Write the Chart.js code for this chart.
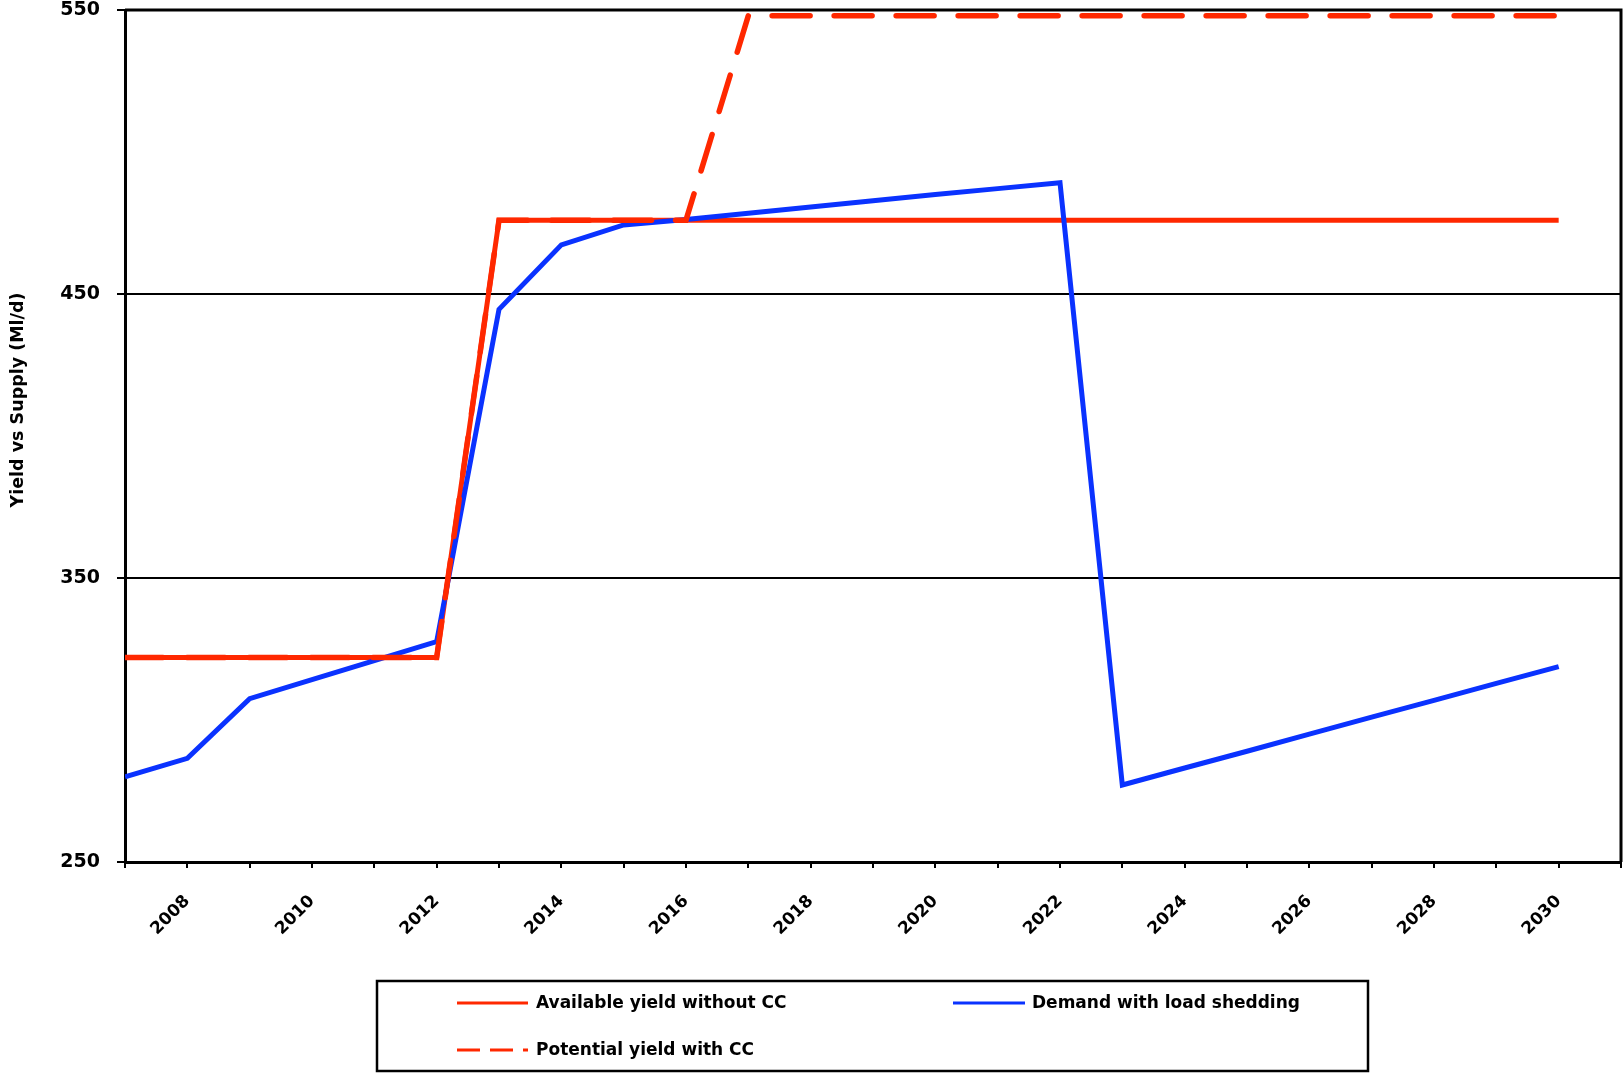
<!DOCTYPE html>
<html>
<head>
<meta charset="utf-8">
<script src="https://cdn.jsdelivr.net/npm/chart.js@4/dist/chart.umd.min.js"></script>
<style>
  html, body { margin: 0; padding: 0; background: #ffffff; }
  #wrap { width: 1623px; height: 1074px; }
</style>
</head>
<body>
<div id="wrap"><canvas id="c" width="1623" height="1074"></canvas></div>
<script>
// Years on the x axis
const years = [2007, 2008, 2009, 2010, 2011, 2012, 2013, 2014, 2015, 2016, 2017, 2018,
               2019, 2020, 2021, 2022, 2023, 2024, 2025, 2026, 2027, 2028, 2029, 2030];

// Available yield without CC (Ml/d)
const availableYield = [322, 322, 322, 322, 322, 322, 476, 476, 476, 476, 476, 476,
                        476, 476, 476, 476, 476, 476, 476, 476, 476, 476, 476, 476];

// Demand with load shedding (Ml/d)
const demand = [280, 286.5, 307.5, 314.2, 320.9, 327.6, 444.6, 467.3, 474.3, 476.2, 478.4, 480.6,
                482.8, 485, 487.1, 489.2, 277.1, 283.1, 289, 295, 301, 306.9, 312.9, 318.8];

// Potential yield with CC (Ml/d)
const potentialYield = [322, 322, 322, 322, 322, 322, 476, 476, 476, 476, 548, 548,
                        548, 548, 548, 548, 548, 548, 548, 548, 548, 548, 548, 548];

// Axis ticks
const yTicks = [250, 350, 450, 550];
const xLabelYears = [2008, 2010, 2012, 2014, 2016, 2018, 2020, 2022, 2024, 2026, 2028, 2030];

const yTitle = 'Yield vs Supply (Ml/d)';

const RED = '#ff2800';
const BLUE = '#0a32ff';
const FONT = '"DejaVu Sans", sans-serif';

const toPoints = vals => years.map((y, i) => ({ x: y, y: vals[i] }));

// Scales keep their fixed box sizes and add no extra padding around the plot
const clearPadding = s => {
  s.paddingTop = 0;
  s.paddingBottom = 0;
  s.paddingLeft = 0;
  s.paddingRight = 0;
};

// Frame around the plot (top and right edges) plus the y title and boxed legend
const framePlugin = {
  id: 'frame',
  afterDraw(chart) {
    const { ctx, chartArea: a } = chart;
    ctx.save();
    ctx.strokeStyle = '#000';
    ctx.lineWidth = 3;
    ctx.beginPath();
    ctx.moveTo(a.left, a.top);
    ctx.lineTo(a.right, a.top);
    ctx.lineTo(a.right, a.bottom);
    ctx.stroke();

    // rotated y-axis title
    ctx.fillStyle = '#000';
    ctx.font = 'bold 17.5px ' + FONT;
    ctx.translate(18, 400);
    ctx.rotate(-Math.PI / 2);
    ctx.textAlign = 'center';
    ctx.textBaseline = 'middle';
    ctx.fillText(yTitle, 0, 0);
    ctx.restore();

    // legend box
    ctx.save();
    ctx.strokeStyle = '#000';
    ctx.lineWidth = 2.5;
    ctx.strokeRect(377, 981, 991, 90);
    const ds = chart.data.datasets;
    const items = [
      { d: ds[0], x1: 457, x2: 528, tx: 536, y: 1003 },
      { d: ds[1], x1: 953, x2: 1025, tx: 1032, y: 1003 },
      { d: ds[2], x1: 457, x2: 528, tx: 536, y: 1050 }
    ];
    ctx.font = 'bold 17px ' + FONT;
    ctx.textAlign = 'left';
    ctx.textBaseline = 'middle';
    items.forEach(it => {
      ctx.beginPath();
      ctx.strokeStyle = it.d.borderColor;
      ctx.lineWidth = 3;
      ctx.lineCap = 'butt';
      ctx.setLineDash(it.d.borderDash && it.d.borderDash.length ? [23, 10] : []);
      ctx.moveTo(it.x1, it.y);
      ctx.lineTo(it.x2, it.y);
      ctx.stroke();
      ctx.setLineDash([]);
      ctx.fillStyle = '#000';
      ctx.fillText(it.d.label, it.tx, it.y + 1);
    });
    ctx.restore();
  }
};

new Chart(document.getElementById('c'), {
  type: 'line',
  data: {
    datasets: [
      {
        label: 'Available yield without CC',
        data: toPoints(availableYield),
        borderColor: RED,
        borderWidth: 5,
        pointRadius: 0,
        fill: false,
        tension: 0,
        order: 2
      },
      {
        label: 'Demand with load shedding',
        data: toPoints(demand),
        borderColor: BLUE,
        borderWidth: 5,
        pointRadius: 0,
        fill: false,
        tension: 0,
        order: 1
      },
      {
        label: 'Potential yield with CC',
        data: toPoints(potentialYield),
        borderColor: RED,
        borderWidth: 5.5,
        borderDash: [38, 24],
        borderCapStyle: 'round',
        pointRadius: 0,
        fill: false,
        tension: 0,
        order: 0
      }
    ]
  },
  options: {
    responsive: false,
    animation: false,
    devicePixelRatio: 1,
    layout: { autoPadding: false, padding: { top: 10, right: 2, left: 0, bottom: 0 } },
    plugins: {
      legend: { display: false },
      tooltip: { enabled: false }
    },
    scales: {
      x: {
        type: 'linear',
        min: 2007,
        max: 2031,
        afterFit: s => { s.height = 212; clearPadding(s); },
        afterBuildTicks: s => {
          s.ticks = [];
          for (let v = 2007; v <= 2031; v++) s.ticks.push({ value: v });
        },
        ticks: {
          autoSkip: false,
          minRotation: 45,
          maxRotation: 45,
          padding: 30,
          color: '#000',
          font: { family: FONT, size: 17, weight: 'bold', lineHeight: 0.1 },
          callback: v => (xLabelYears.includes(v) ? String(v) : '')
        },
        grid: {
          drawOnChartArea: false,
          drawTicks: true,
          tickLength: 6,
          color: '#000',
          lineWidth: 2
        },
        border: { display: true, color: '#000', width: 3 }
      },
      y: {
        min: 250,
        max: 550,
        afterFit: s => { s.width = 125; clearPadding(s); },
        afterBuildTicks: s => { s.ticks = yTicks.map(v => ({ value: v })); },
        ticks: {
          padding: 17,
          color: '#000',
          font: { family: FONT, size: 19, weight: 'bold', lineHeight: 1 },
          callback: v => String(v)
        },
        grid: {
          color: '#000',
          lineWidth: 2,
          tickLength: 8
        },
        border: { display: true, color: '#000', width: 3 }
      }
    }
  },
  plugins: [framePlugin]
});
</script>
</body>
</html>
